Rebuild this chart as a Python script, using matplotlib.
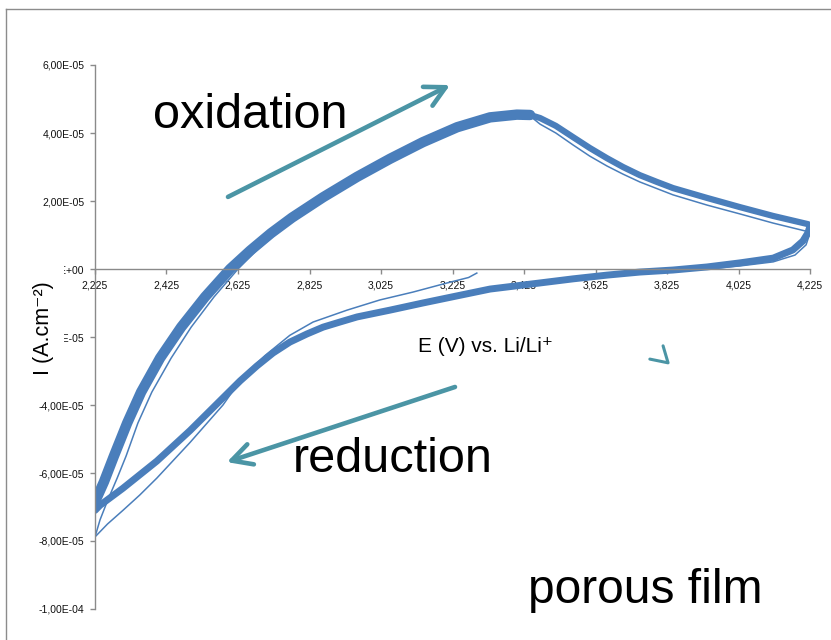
"""
Cyclic voltammogram of the porous film (many cycles overlaid)
"""
import matplotlib
matplotlib.use("Agg")
import matplotlib.pyplot as plt
from matplotlib.lines import Line2D
from matplotlib.patches import Rectangle

plt.rcParams["font.family"] = ["Liberation Sans", "DejaVu Sans"]

# ----------------------------------------------------------
# Data (E in V vs Li/Li+, I in 1e-5 A.cm-2)
# ----------------------------------------------------------
# steady cycles, anodic sweep up to the peak (band centre)
rise_E = [2.225, 2.250, 2.278, 2.315, 2.354, 2.407, 2.466, 2.533, 2.603, 2.659,
          2.717, 2.776, 2.863, 2.958, 3.050, 3.142, 3.238, 3.330, 3.405, 3.442]
rise_I = [-6.85, -6.26, -5.50, -4.53, -3.62, -2.62, -1.71, -0.82, 0.00, 0.54,
          1.05, 1.51, 2.11, 2.71, 3.24, 3.73, 4.17, 4.46, 4.54, 4.53]

# steady cycles, anodic sweep after the peak
decay_E = [3.330, 3.405, 3.442, 3.470, 3.514, 3.562, 3.609, 3.657, 3.702, 3.749,
           3.797, 3.842, 3.937, 4.029, 4.122, 4.219, 4.225]
decay_I = [4.46, 4.54, 4.53, 4.44, 4.21, 3.88, 3.56, 3.26, 3.00, 2.76,
           2.56, 2.38, 2.09, 1.82, 1.56, 1.32, 1.29]

# steady cycles, cathodic sweep
cathodic_E = [4.225, 4.219, 4.205, 4.177, 4.122, 4.029, 3.937, 3.842, 3.749, 3.657,
              3.562, 3.470, 3.330, 3.238, 3.142, 3.050, 2.958, 2.910, 2.863, 2.818,
              2.770, 2.723, 2.678, 2.631, 2.583, 2.491, 2.398, 2.303, 2.239, 2.225]
cathodic_I = [1.26, 1.06, 0.82, 0.56, 0.32, 0.18, 0.06, -0.03, -0.09, -0.18,
              -0.29, -0.41, -0.59, -0.79, -1.00, -1.21, -1.41, -1.56, -1.71, -1.91,
              -2.15, -2.47, -2.85, -3.29, -3.79, -4.75, -5.65, -6.45, -6.95, -7.10]

# first cycle, starting from OCV with a cathodic sweep
first_cath_E = [3.293, 3.270, 3.210, 3.114, 3.022, 2.930, 2.835, 2.770, 2.700, 2.640,
                2.583, 2.491, 2.398, 2.350, 2.303, 2.260, 2.225]
first_cath_I = [-0.12, -0.25, -0.41, -0.68, -0.91, -1.21, -1.56, -1.95, -2.55, -3.15,
                -4.00, -5.10, -6.15, -6.65, -7.10, -7.50, -7.88]

first_anod_E = [2.225, 2.239, 2.261, 2.287, 2.312, 2.345, 2.384, 2.438, 2.494, 2.558,
                2.625, 2.678, 2.731, 2.784, 2.863, 2.958, 3.050, 3.142, 3.238, 3.330,
                3.405, 3.442, 3.470, 3.514, 3.562, 3.609, 3.657, 3.702, 3.749, 3.842,
                3.937, 4.029, 4.122, 4.211, 4.225, 4.214, 4.183, 4.122, 4.029, 3.937,
                3.842]
first_anod_I = [-7.88, -7.38, -6.79, -6.15, -5.50, -4.53, -3.62, -2.62, -1.71, -0.82,
                0.00, 0.56, 1.03, 1.47, 2.08, 2.71, 3.24, 3.73, 4.17, 4.46,
                4.54, 4.50, 4.26, 4.00, 3.65, 3.32, 3.03, 2.79, 2.56, 2.18,
                1.88, 1.62, 1.35, 1.12, 1.06, 0.71, 0.41, 0.21, 0.09, 0.00,
                -0.06]

x_ticks = [2.225, 2.425, 2.625, 2.825, 3.025, 3.225, 3.425, 3.625, 3.825, 4.025, 4.225]
y_ticks = [-10, -8, -6, -4, -2, 0, 2, 4, 6]

scale = 1e-5
band_color = "#4a7ebb"
arrow_color = "#4b95a5"


def amps(values):
    return [v * scale for v in values]


# ----------------------------------------------------------
# Figure
# ----------------------------------------------------------
fig = plt.figure(figsize=(8.31, 6.4), dpi=100)
ax = fig.add_axes([95 / 831, 1 - 609 / 640, 715 / 831, 544 / 640])

band = dict(color=band_color, solid_capstyle="round", solid_joinstyle="round")
ax.plot(rise_E, amps(rise_I), lw=7.5, **band)
ax.plot(decay_E, amps(decay_I), lw=4.5, **band)
ax.plot(cathodic_E, amps(cathodic_I), lw=5, **band)
ax.plot(first_cath_E, amps(first_cath_I), color=band_color, lw=1.1)
ax.plot(first_anod_E, amps(first_anod_I), color=band_color, lw=1.1)

ax.set_xlim(2.225, 4.225)
ax.set_ylim(-10 * scale, 6 * scale)

# Excel-like axes
for side in ["top", "right"]:
    ax.spines[side].set_visible(False)
ax.spines["bottom"].set_position(("data", 0))
for side in ["left", "bottom"]:
    ax.spines[side].set_color("#8a8a8a")
    ax.spines[side].set_linewidth(1.0)
ax.patch.set_alpha(0)

ax.set_xticks(x_ticks)
ax.set_xticklabels([f"{v:.3f}".replace(".", ",") for v in x_ticks])
ax.set_yticks(amps(y_ticks))
ax.set_yticklabels([f"{v * scale:.2E}".replace(".", ",") for v in y_ticks])
ax.tick_params(axis="both", direction="out", length=3.6, width=1.0,
               color="#8a8a8a", labelsize=7.5, labelcolor="#111111")
ax.tick_params(axis="x", pad=5.0)
ax.tick_params(axis="y", pad=4.0)

# annotations
head = "->, head_length=0.72, head_width=0.38"
ax.annotate("", xy=(3.218, 5.41 * scale), xytext=(2.597, 2.12 * scale),
            arrowprops=dict(arrowstyle=head, mutation_scale=20, lw=3.3,
                            color=arrow_color, capstyle="round",
                            shrinkA=0, shrinkB=0))
ax.annotate("", xy=(2.594, -5.68 * scale), xytext=(3.232, -3.47 * scale),
            arrowprops=dict(arrowstyle=head, mutation_scale=20, lw=3.3,
                            color=arrow_color, capstyle="round",
                            shrinkA=0, shrinkB=0))

stray_E = [3.777, 3.828, 3.814]
stray_I = [-2.65, -2.76, -2.26]
ax.plot(stray_E, amps(stray_I), color=arrow_color, lw=2.2, solid_capstyle="round")

ax.text(2.387, 4.15 * scale, "oxidation", fontsize=35, va="baseline", ha="left")
ax.text(2.779, -5.97 * scale, "reduction", fontsize=35, va="baseline", ha="left")
ax.text(3.436, -9.82 * scale, "porous film", fontsize=34.5, va="baseline", ha="left")
ax.text(3.128, -2.44 * scale, "E (V) vs. Li/Li\u207a", fontsize=15,
        va="baseline", ha="left")

# y label sits on a white box that hides part of the tick labels
fig.patches.append(Rectangle((22 / 831, (640 - 385) / 640), 42 / 831, 123 / 640,
                             transform=fig.transFigure, facecolor="white",
                             edgecolor="none", zorder=1))
fig.text(43 / 831, (640 - 328) / 640, "I (A.cm\u207b\u00b2)", rotation=90,
         fontsize=15.5, ha="center", va="center", zorder=3)

# slide frame
fig.add_artist(Line2D([6 / 831, 6 / 831], [0, 1 - 9 / 640], transform=fig.transFigure,
                      color="#8c8c8c", lw=1.0))
fig.add_artist(Line2D([6 / 831, 1], [1 - 9 / 640, 1 - 9 / 640], transform=fig.transFigure,
                      color="#8c8c8c", lw=1.0))

fig.savefig("out.png", dpi=100)
